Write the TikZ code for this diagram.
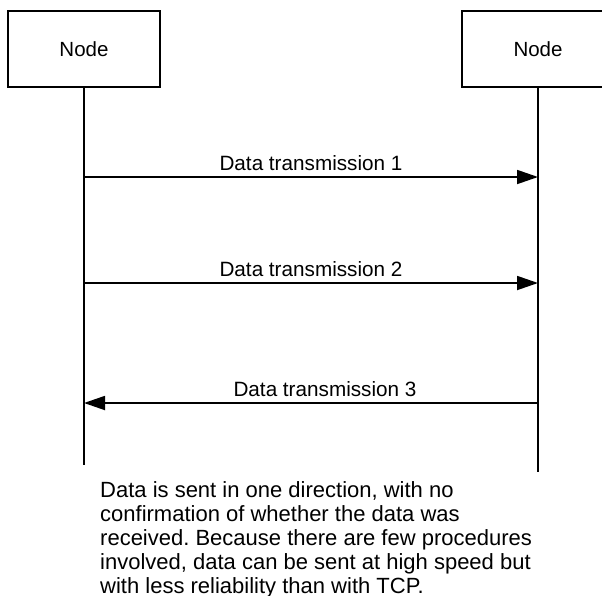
\documentclass[tikz,border=0pt]{standalone}
\usepackage{fontspec}
\setmainfont{Liberation Sans}
\usetikzlibrary{arrows.meta}
\frenchspacing
\begin{document}
\begin{tikzpicture}[x=1pt,y=-1pt,
  nodebox/.style={draw,line width=2pt,minimum width=152pt,minimum height=76pt,inner sep=0pt,font=\fontsize{20.5}{24}\selectfont},
  life/.style={line width=1.8pt},
  msg/.style={line width=1.8pt,-{Triangle[length=21pt,width=14pt]}},
  lbl/.style={anchor=base,inner sep=0pt,yshift=7pt,font=\fontsize{20.7}{24}\selectfont}]
\useasboundingbox (0,0) rectangle (602,595);
\node[nodebox] (A) at (84,49) {Node};
\node[nodebox] (B) at (538,49) {Node};
\coordinate (Aend) at (84,465);
\coordinate (Bend) at (538,472);
\draw[life] (A.south) -- (Aend);
\draw[life] (B.south) -- (Bend);
\coordinate (a1) at (84,177);
\coordinate (b1) at (538,177);
\coordinate (a2) at (84,283);
\coordinate (b2) at (538,283);
\coordinate (a3) at (84,403);
\coordinate (b3) at (538,403);
\draw[msg] (a1) -- node[lbl] (l1) {Data transmission 1} (b1);
\draw[msg] (a2) -- node[lbl] (l2) {Data transmission 2} (b2);
\draw[msg] (b3) -- node[lbl,xshift=14pt] (l3) {Data transmission 3} (a3);
\node[anchor=north west,inner sep=0pt,align=left,font=\fontsize{22}{24}\selectfont\frenchspacing] (note) at (100,481)
{Data is sent in one direction, with no\\
confirmation of whether the data was\\
received. Because there are few procedures\\
involved, data can be sent at high speed but\\
with less reliability than with TCP.};
\end{tikzpicture}
\end{document}
